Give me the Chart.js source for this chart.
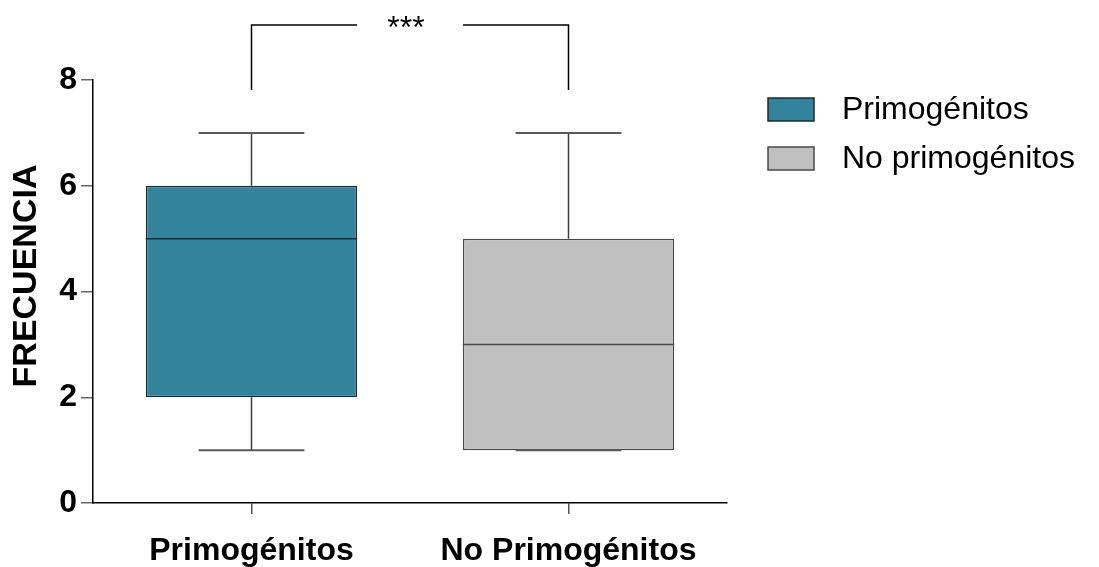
<!DOCTYPE html>
<html lang="es">
<head>
<meta charset="utf-8">
<title>Frecuencia por orden de nacimiento</title>
<script src="https://cdn.jsdelivr.net/npm/chart.js@4.4.1/dist/chart.umd.min.js"></script>
<style>
  html, body { margin: 0; padding: 0; background: #ffffff; }
  #wrap { width: 1099px; height: 567px; }
</style>
</head>
<body>
<div id="wrap"><canvas id="c" width="1099" height="567"></canvas></div>
<script>
// Groups on the x axis
const categories = ['Primogénitos', 'No Primogénitos'];
// Legend names of the two groups
const seriesLabels = ['Primogénitos', 'No primogénitos'];
// Five-number summary per group
const minValues    = [1, 1];
const q1Values     = [2, 1];
const medianValues = [5, 3];
const q3Values     = [6, 5];
const maxValues    = [7, 7];
// Y axis ticks
const yTicks = [0, 2, 4, 6, 8];
const yTitle = 'FRECUENCIA';
// Significance bracket between the two groups
const bracketTop = 9.04;
const bracketArm = 7.81;
const significance = '***';

const FONT = "'Liberation Sans', Arial, Helvetica, sans-serif";
const fillColors = ['#31849b', '#c0c0c0'];
const edgeColors = ['#1e2a2e', '#4a4a4a'];

// One floating bar (Q1..Q3) per group, each group in its own dataset
const datasets = seriesLabels.map((label, d) => ({
  label,
  data: categories.map((_, i) => (i === d ? [q1Values[i], q3Values[i]] : null)),
  backgroundColor: fillColors[d],
  borderColor: edgeColors[d],
  borderWidth: 1.5,
  borderSkipped: false,
  grouped: false,
  categoryPercentage: 1,
  barPercentage: 0.667
}));

// Whiskers, caps and median lines, positioned through the chart scales
const boxExtras = {
  id: 'boxExtras',
  afterDatasetsDraw(chart) {
    const { ctx } = chart;
    const x = chart.scales.x, y = chart.scales.y;
    categories.forEach((_, i) => {
      const bar = chart.getDatasetMeta(i).data[i];
      const cx = x.getPixelForValue(i);
      const half = bar.width / 2;
      const capHalf = half / 2;
      ctx.save();
      // whiskers
      ctx.strokeStyle = '#3c3c3c';
      ctx.lineWidth = 1.5;
      ctx.beginPath();
      ctx.moveTo(cx, y.getPixelForValue(q3Values[i]));
      ctx.lineTo(cx, y.getPixelForValue(maxValues[i]));
      ctx.moveTo(cx, y.getPixelForValue(q1Values[i]));
      ctx.lineTo(cx, y.getPixelForValue(minValues[i]));
      ctx.stroke();
      // caps
      ctx.strokeStyle = '#5a5a5a';
      ctx.lineWidth = 2;
      ctx.beginPath();
      [maxValues[i], minValues[i]].forEach(v => {
        const py = y.getPixelForValue(v);
        ctx.moveTo(cx - capHalf, py);
        ctx.lineTo(cx + capHalf, py);
      });
      ctx.stroke();
      // median
      ctx.strokeStyle = edgeColors[i];
      ctx.lineWidth = 1.5;
      ctx.beginPath();
      const my = y.getPixelForValue(medianValues[i]);
      ctx.moveTo(cx - half, my);
      ctx.lineTo(cx + half, my);
      ctx.stroke();
      ctx.restore();
    });
  },
  afterDraw(chart) {
    const { ctx, chartArea } = chart;
    const x = chart.scales.x, y = chart.scales.y;
    ctx.save();
    // significance bracket
    const x0 = x.getPixelForValue(0), x1 = x.getPixelForValue(1);
    const yt = y.getPixelForValue(bracketTop), ya = y.getPixelForValue(bracketArm);
    const mid = (x0 + x1) / 2;
    const gap = 53;
    ctx.strokeStyle = '#000';
    ctx.lineWidth = 1.5;
    ctx.beginPath();
    ctx.moveTo(x0, ya); ctx.lineTo(x0, yt); ctx.lineTo(mid - gap, yt);
    ctx.moveTo(mid + gap, yt); ctx.lineTo(x1, yt); ctx.lineTo(x1, ya);
    ctx.stroke();
    ctx.fillStyle = '#000';
    ctx.font = '32px ' + FONT;
    ctx.textAlign = 'center';
    ctx.textBaseline = 'alphabetic';
    ctx.fillText(significance, mid - 4, yt + 13);

    // y axis title
    ctx.save();
    ctx.translate(27, 276);
    ctx.rotate(-Math.PI / 2);
    ctx.font = 'bold 34px ' + FONT;
    ctx.textAlign = 'center';
    ctx.textBaseline = 'middle';
    ctx.fillText(yTitle, 0, 0);
    ctx.restore();

    // legend
    const lx = chartArea.right + 41;
    const ly0 = 98, step = 49, bw = 46, bh = 23;
    chart.data.datasets.forEach((ds, d) => {
      const top = ly0 + d * step;
      ctx.fillStyle = ds.backgroundColor;
      ctx.fillRect(lx, top, bw, bh);
      ctx.strokeStyle = ds.borderColor;
      ctx.lineWidth = 1.5;
      ctx.strokeRect(lx, top, bw, bh);
      ctx.fillStyle = '#000';
      ctx.font = '32px ' + FONT;
      ctx.textAlign = 'left';
      ctx.textBaseline = 'middle';
      ctx.fillText(ds.label, lx + bw + 28, top + bh / 2 + 1);
    });
    ctx.restore();
  }
};

new Chart(document.getElementById('c'), {
  type: 'bar',
  data: { labels: categories, datasets },
  options: {
    responsive: false,
    devicePixelRatio: 1,
    animation: false,
    layout: { padding: { top: 80, right: 372, bottom: 0, left: 0 } },
    plugins: { legend: { display: false }, tooltip: { enabled: false } },
    scales: {
      x: {
        offset: true,
        afterFit(scale) { scale.height = 64; },
        grid: { display: true, drawOnChartArea: false, offset: false, tickLength: 11, color: '#555', lineWidth: 1.5 },
        border: { display: true, color: '#000', width: 1.5 },
        ticks: { color: '#000', padding: 18, maxRotation: 0, font: { family: FONT, size: 32, weight: 'bold' } }
      },
      y: {
        min: yTicks[0],
        max: yTicks[yTicks.length - 1],
        afterFit(scale) { scale.width = 93; },
        afterBuildTicks(scale) { scale.ticks = yTicks.map(v => ({ value: v })); },
        grid: { display: true, drawOnChartArea: false, tickLength: 12, color: '#666', lineWidth: 1.5 },
        border: { display: true, color: '#000', width: 1.5 },
        ticks: { color: '#000', padding: 4, font: { family: FONT, size: 32, weight: 'bold' } }
      }
    }
  },
  plugins: [boxExtras]
});
</script>
</body>
</html>
